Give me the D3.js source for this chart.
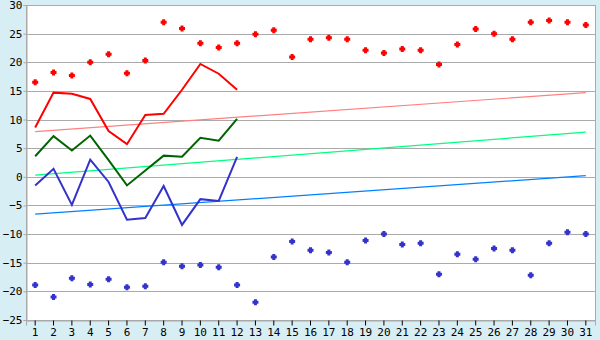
<!DOCTYPE html>
<html>
<head>
<meta charset="utf-8">
<script src="https://cdn.jsdelivr.net/npm/d3@7"></script>
<style>
  body { margin: 0; background: #d8eef5; }
  svg { display: block; }
  .tick text { font-family: "DejaVu Sans Mono", monospace; font-size: 11px; fill: #000; }
</style>
</head>
<body>
<div id="chart"></div>
<script>
const WIDTH = 600;
const HEIGHT = 340;
const MARGIN = { left: 26, right: 5, top: 5, bottom: 20 };

// data
const days = d3.range(1, 32);
const yTicks = [30, 25, 20, 15, 10, 5, 0, -5, -10, -15, -20, -25];

const highPoints = [16.5, 18.2, 17.7, 20.0, 21.4, 18.1, 20.3, 27.0, 25.9, 23.3,
  22.6, 23.3, 24.9, 25.6, 20.9, 24.0, 24.3, 24.0, 22.1, 21.6,
  22.3, 22.1, 19.6, 23.1, 25.8, 25.0, 24.0, 27.0, 27.3, 27.0, 26.5];
const lowPoints = [-18.9, -21.0, -17.7, -18.8, -17.9, -19.3, -19.1, -14.9, -15.6, -15.4,
  -15.8, -18.9, -21.9, -14.0, -11.3, -12.8, -13.2, -14.9, -11.1, -10.0,
  -11.8, -11.6, -17.0, -13.5, -14.4, -12.5, -12.8, -17.2, -11.6, -9.7, -10.0];

const maxLine = [8.6, 14.7, 14.5, 13.6, 8.0, 5.7, 10.8, 11.0, 15.2, 19.7, 18.0, 15.2];
const meanLine = [3.6, 7.1, 4.6, 7.2, 2.9, -1.5, 1.1, 3.7, 3.5, 6.8, 6.3, 10.1];
const minLine = [-1.5, 1.4, -4.9, 3.0, -0.9, -7.5, -7.2, -1.6, -8.4, -3.9, -4.2, 3.5];

// trend lines: value at day 1 and day 31
const maxTrend = [7.9, 14.7];
const meanTrend = [0.3, 7.8];
const minTrend = [-6.5, 0.2];

const svg = d3.select('#chart')
  .append('svg')
  .attr('width', WIDTH)
  .attr('height', HEIGHT);

const x = d3.scaleBand()
  .domain(days)
  .range([MARGIN.left, WIDTH - MARGIN.right]);

const y = d3.scaleLinear()
  .domain([-25, 30])
  .range([HEIGHT - MARGIN.bottom, MARGIN.top]);

const cx = d => x(d) + x.bandwidth() / 2;

// plot background
svg.append('rect')
  .attr('x', MARGIN.left + 0.5)
  .attr('y', MARGIN.top + 0.5)
  .attr('width', WIDTH - MARGIN.right - MARGIN.left)
  .attr('height', HEIGHT - MARGIN.bottom - MARGIN.top)
  .attr('fill', '#fff')
  .attr('stroke', '#aaa');

// gridlines
svg.append('g')
  .selectAll('line')
  .data(yTicks)
  .join('line')
  .attr('x1', MARGIN.left)
  .attr('x2', WIDTH - MARGIN.right)
  .attr('y1', d => Math.round(y(d)) + 0.5)
  .attr('y2', d => Math.round(y(d)) + 0.5)
  .attr('stroke', '#aaa');

// axes
const yAxis = svg.append('g')
  .attr('transform', `translate(${MARGIN.left + 0.5}, 0)`)
  .call(d3.axisLeft(y).tickValues(yTicks).tickSize(3).tickPadding(1));
yAxis.selectAll('line, path').attr('stroke', '#aaa');

const xAxis = svg.append('g')
  .attr('transform', `translate(0, ${HEIGHT - MARGIN.bottom + 0.5})`)
  .call(d3.axisBottom(x).tickSize(5).tickPadding(3));
xAxis.select('.domain').attr('stroke', '#aaa');
xAxis.selectAll('.tick line').attr('stroke', '#000');

// trend lines
const trends = [
  { vals: minTrend, color: '#0080ff' },
  { vals: meanTrend, color: '#00ff80' },
  { vals: maxTrend, color: '#ff8080' }
];
svg.append('g')
  .selectAll('line')
  .data(trends)
  .join('line')
  .attr('x1', cx(1))
  .attr('x2', cx(31))
  .attr('y1', d => y(d.vals[0]))
  .attr('y2', d => y(d.vals[1]))
  .attr('stroke', d => d.color)
  .attr('stroke-width', 1.2);

// daily lines
const lineGenerator = d3.line()
  .x((d, i) => cx(days[i]))
  .y(d => y(d));

const lines = [
  { vals: maxLine, color: '#ff0000' },
  { vals: meanLine, color: '#006400' },
  { vals: minLine, color: '#3333cc' }
];
svg.append('g')
  .selectAll('path')
  .data(lines)
  .join('path')
  .attr('d', d => lineGenerator(d.vals))
  .attr('fill', 'none')
  .attr('stroke', d => d.color)
  .attr('stroke-width', 2);

// chunky plus marker, like the reference
const plus = {
  draw (ctx) {
    const r = 3, a = 1.5;
    ctx.moveTo(-a, -r);
    ctx.lineTo(a, -r);
    ctx.lineTo(a, -a);
    ctx.lineTo(r, -a);
    ctx.lineTo(r, a);
    ctx.lineTo(a, a);
    ctx.lineTo(a, r);
    ctx.lineTo(-a, r);
    ctx.lineTo(-a, a);
    ctx.lineTo(-r, a);
    ctx.lineTo(-r, -a);
    ctx.lineTo(-a, -a);
    ctx.closePath();
  }
};
const marker = d3.symbol().type(plus);

function drawPoints (vals, color) {
  svg.append('g')
    .selectAll('path')
    .data(vals)
    .join('path')
    .attr('d', marker)
    .attr('transform', (d, i) => `translate(${cx(days[i])}, ${y(d)})`)
    .attr('fill', color);
}
drawPoints(highPoints, '#ff0000');
drawPoints(lowPoints, '#3333cc');
</script>
</body>
</html>
